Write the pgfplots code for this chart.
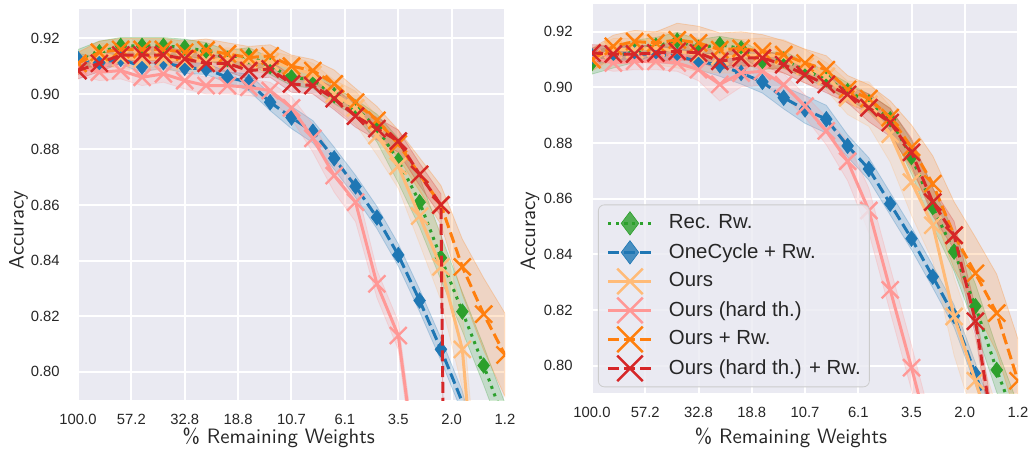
\documentclass[border=0pt]{standalone}
\usepackage{fontspec}
\newfontfamily\arial{Liberation Sans}
\usepackage{pgfplots}
\usepackage{pgfplotstable}
\pgfplotsset{compat=1.18}
\usepgfplotslibrary{fillbetween}
\definecolor{axbg}{HTML}{EAEAF2}
\definecolor{txt}{HTML}{262626}
\definecolor{legedge}{HTML}{CCCCCC}
\definecolor{cgreen}{HTML}{2CA02C}
\definecolor{cblue}{HTML}{1F77B4}
\definecolor{clorange}{HTML}{FFBB78}
\definecolor{cpink}{HTML}{FF9896}
\definecolor{corange}{HTML}{FF7F0E}
\definecolor{cred}{HTML}{D62728}

% columns: remaining weights, then mean and half band width of each run
% g = Rec. Rw., b = OneCycle + Rw., lo = Ours, p = Ours (hard th.),
% o = Ours + Rw., r = Ours (hard th.) + Rw.
\pgfplotstableread{
x      g      ge    b      be    lo     loe   p      pe    o      oe    r      re
100    0.912  0.004 0.9126 0.002 0.911  0.004 0.910  0.003 0.911  0.004 0.9084 0.003
80     0.915  0.004 0.9112 0.002 0.9144 0.004 0.9078 0.003 0.915  0.004 0.911  0.003
64     0.9173 0.003 0.9126 0.002 0.9131 0.004 0.9084 0.003 0.916  0.004 0.914  0.003
51.2   0.9173 0.003 0.9098 0.002 0.9126 0.004 0.906  0.003 0.916  0.004 0.914  0.003
40.96  0.9173 0.003 0.9114 0.002 0.9126 0.004 0.9072 0.003 0.916  0.004 0.914  0.003
32.768 0.9167 0.003 0.9094 0.002 0.912  0.004 0.9048 0.003 0.915  0.004 0.9126 0.003
26.214 0.9155 0.003 0.909  0.002 0.912  0.004 0.903  0.003 0.9158 0.004 0.911  0.003
20.972 0.9126 0.003 0.906  0.002 0.9126 0.004 0.903  0.003 0.9144 0.004 0.911  0.003
16.777 0.9137 0.003 0.9042 0.003 0.912  0.004 0.9024 0.003 0.9131 0.004 0.9084 0.003
13.422 0.910  0.003 0.897  0.003 0.9115 0.004 0.9012 0.003 0.9137 0.004 0.909  0.003
10.737 0.906  0.003 0.8915 0.004 0.9096 0.004 0.895  0.004 0.910  0.004 0.9036 0.003
8.590  0.905  0.003 0.8864 0.004 0.907  0.004 0.884  0.005 0.9084 0.004 0.903  0.003
6.872  0.8995 0.003 0.8768 0.004 0.900  0.005 0.8706 0.006 0.9036 0.005 0.8983 0.004
5.498  0.895  0.003 0.8667 0.004 0.895  0.006 0.861  0.007 0.897  0.005 0.892  0.004
4.398  0.8877 0.005 0.8555 0.004 0.885  0.007 0.8316 0.005 0.8905 0.005 0.8875 0.004
3.518  0.876  0.008 0.842  0.004 0.874  0.008 0.813  0.005 0.882  0.005 0.883  0.004
2.815  0.861  0.009 0.8256 0.004 0.856  0.010 0.755  0.005 0.871  0.006 0.871  0.004
2.252  0.841  0.008 0.808  0.004 0.8377 0.012 0.70   0.005 0.860  0.007 0.860  0.004
1.801  0.8216 0.007 0.789  0.004 0.808  0.014 0.65   0.005 0.8377 0.010 0.10   0.004
1.441  0.8022 0.007 0.76   0.004 0.72   0.015 0.60   0.005 0.8207 0.013 0.10   0.004
1.153  0.7816 0.007 0.72   0.004 0.68   0.015 0.55   0.005 0.806  0.015 0.10   0.004
}\lefttab

\pgfplotstableread{
x      g      ge    b      be    lo     loe   p      pe    o      oe    r      re
100    0.9088 0.004 0.9112 0.003 0.910  0.004 0.9106 0.003 0.910  0.004 0.9124 0.003
80     0.911  0.004 0.9124 0.003 0.9136 0.004 0.9088 0.003 0.9148 0.004 0.912  0.003
64     0.913  0.004 0.912  0.003 0.9136 0.004 0.9094 0.003 0.9165 0.004 0.912  0.003
51.2   0.915  0.003 0.912  0.003 0.9142 0.006 0.9094 0.003 0.916  0.004 0.9124 0.003
40.96  0.9168 0.003 0.9112 0.003 0.913  0.006 0.9088 0.003 0.9171 0.006 0.913  0.003
32.768 0.9142 0.003 0.9094 0.003 0.9118 0.006 0.9064 0.004 0.916  0.006 0.9124 0.003
26.214 0.9154 0.003 0.908  0.004 0.9112 0.006 0.9011 0.006 0.9136 0.006 0.9094 0.003
20.972 0.914  0.003 0.9052 0.004 0.9112 0.006 0.9052 0.005 0.914  0.006 0.9106 0.003
16.777 0.9094 0.003 0.902  0.004 0.9118 0.006 0.9058 0.005 0.913  0.006 0.9106 0.003
13.422 0.910  0.003 0.8963 0.004 0.9112 0.006 0.901  0.004 0.9118 0.005 0.9082 0.003
10.737 0.9064 0.003 0.8921 0.005 0.9076 0.006 0.8933 0.004 0.9088 0.005 0.9046 0.003
8.590  0.9029 0.003 0.8886 0.005 0.904  0.005 0.8844 0.005 0.9064 0.005 0.9011 0.003
6.872  0.8987 0.003 0.879  0.004 0.8963 0.006 0.8735 0.007 0.8993 0.005 0.8975 0.003
5.498  0.8946 0.003 0.8707 0.004 0.894  0.008 0.8558 0.008 0.896  0.005 0.8927 0.005
4.398  0.8886 0.004 0.8582 0.004 0.8832 0.010 0.8273 0.008 0.8892 0.006 0.8874 0.005
3.518  0.875  0.006 0.8457 0.004 0.866  0.012 0.7993 0.008 0.8785 0.008 0.8767 0.005
2.815  0.857  0.007 0.832  0.004 0.8505 0.013 0.77   0.008 0.8654 0.010 0.8588 0.005
2.252  0.841  0.007 0.8179 0.004 0.8177 0.014 0.74   0.008 0.8469 0.012 0.8469 0.005
1.801  0.8214 0.008 0.797  0.004 0.7946 0.015 0.71   0.008 0.8332 0.013 0.816  0.005
1.441  0.7985 0.008 0.775  0.004 0.77   0.015 0.68   0.008 0.8189 0.014 0.769  0.005
1.153  0.778  0.008 0.75   0.004 0.75   0.015 0.65   0.008 0.7946 0.015 0.74   0.005
}\righttab

\tikzset{
  sline/.style={line width=1.5pt},
  gline/.style={sline, cgreen, dash pattern=on 1.5pt off 2.5pt, mark=diamond*, mark size=3.9pt,
    mark options={solid, line width=0.3pt, draw=cgreen, fill=cgreen}},
  bline/.style={sline, cblue, dash pattern=on 5.5pt off 2.4pt, mark=diamond*, mark size=3.9pt,
    mark options={solid, line width=0.3pt, draw=cblue, fill=cblue}},
  loline/.style={sline, clorange, mark=x, mark size=6pt, mark options={solid, line width=1.2pt}},
  pline/.style={sline, cpink, mark=x, mark size=6pt, mark options={solid, line width=1.2pt}},
  oline/.style={sline, corange, dash pattern=on 5.5pt off 2.4pt, mark=x, mark size=6pt,
    mark options={solid, line width=1.2pt}},
  rline/.style={sline, cred, dash pattern=on 5.5pt off 2.4pt, mark=x, mark size=6pt,
    mark options={solid, line width=1.2pt}},
}

\newcommand{\band}[4]{%
  \addplot[name path=u#2, draw=none, forget plot] table[x=x, y expr=\thisrow{#2}+\thisrow{#3}] {#1};
  \addplot[name path=l#2, draw=none, forget plot] table[x=x, y expr=\thisrow{#2}-\thisrow{#3}] {#1};
  \addplot[fill=#4, fill opacity=0.2, draw=#4, draw opacity=0.25, line width=0.4pt, forget plot]
    fill between[of=u#2 and l#2];
}
\newcommand{\allseries}[1]{%
  \band{#1}{g}{ge}{cgreen}
  \band{#1}{b}{be}{cblue}
  \band{#1}{lo}{loe}{clorange}
  \band{#1}{p}{pe}{cpink}
  \band{#1}{o}{oe}{corange}
  \band{#1}{r}{re}{cred}
  \addplot[gline] table[x=x, y=g] {#1};
  \addplot[bline] table[x=x, y=b] {#1};
  \addplot[loline] table[x=x, y=lo] {#1};
  \addplot[pline] table[x=x, y=p] {#1};
  \addplot[oline] table[x=x, y=o] {#1};
  \addplot[rline] table[x=x, y=r] {#1};
}

\begin{document}
\begin{tikzpicture}
\begin{axis}[at={(39pt,24.25pt)}, anchor=south west,
  scale only axis, width=213.5pt, height=195.5pt, clip marker paths=true,
  xmode=log, x dir=reverse, xmin=1.1529, xmax=100, ymin=0.7896, ymax=0.9304,
  axis background/.style={fill=axbg},
  axis line style={draw=none}, major tick style={draw=none},
  grid=major, major grid style={white, line width=1pt},
  xtick={100,57.24,32.77,18.76,10.74,6.144,3.518,2.014,1.153},
  xticklabels={100.0,57.2,32.8,18.8,10.7,6.1,3.5,2.0,1.2},
  ytick={0.80,0.82,0.84,0.86,0.88,0.90,0.92},
  yticklabels={0.80,0.82,0.84,0.86,0.88,0.90,0.92},
  tick label style={font=\arial\fontsize{7.4}{9}\selectfont, text=txt},
  xticklabel style={inner sep=0pt, yshift=-6.5pt},
  yticklabel style={inner sep=0pt, xshift=-9pt},
  xlabel={\% Remaining Weights}, ylabel={Accuracy},
  label style={font=\sffamily\fontsize{10.4}{12}\selectfont, text=txt},
  xlabel style={at={(axis description cs:0.470,-0.110)}, anchor=base},
  ylabel style={at={(axis description cs:-0.1393,0.436)}, anchor=center}]
  \allseries{\lefttab}
\end{axis}

\begin{axis}[at={(296pt,27.85pt)}, anchor=south west,
  scale only axis, width=213pt, height=194.65pt, clip marker paths=true,
  xmode=log, x dir=reverse, xmin=1.1529, xmax=100, ymin=0.7901, ymax=0.9300,
  axis background/.style={fill=axbg},
  axis line style={draw=none}, major tick style={draw=none},
  grid=major, major grid style={white, line width=1pt},
  xtick={100,57.24,32.77,18.76,10.74,6.144,3.518,2.014,1.153},
  xticklabels={100.0,57.2,32.8,18.8,10.7,6.1,3.5,2.0,1.2},
  ytick={0.80,0.82,0.84,0.86,0.88,0.90,0.92},
  yticklabels={0.80,0.82,0.84,0.86,0.88,0.90,0.92},
  tick label style={font=\arial\fontsize{7.4}{9}\selectfont, text=txt},
  xticklabel style={inner sep=0pt, yshift=-6.5pt},
  yticklabel style={inner sep=0pt, xshift=-9.5pt},
  xlabel={\% Remaining Weights}, ylabel={Accuracy},
  label style={font=\sffamily\fontsize{10.4}{12}\selectfont, text=txt},
  xlabel style={at={(axis description cs:0.467,-0.129)}, anchor=base},
  ylabel style={at={(axis description cs:-0.1455,0.417)}, anchor=center},
  legend entries={Rec. Rw., OneCycle + Rw., Ours, Ours (hard th.), Ours + Rw., Ours (hard th.) + Rw.},
  legend cell align=left,
  legend image code/.code={\draw[mark repeat=2, mark phase=2, #1]
    plot coordinates {(0pt,0pt) (10.75pt,0pt) (21.5pt,0pt)};},
  legend image post style={every mark/.append style={scale=1.5}},
  legend style={at={(rel axis cs:0.014,0.0155)}, anchor=south west,
    fill=axbg, fill opacity=0.8, text opacity=1, draw=legedge, rounded corners=3pt,
    font=\arial\fontsize{10.2}{12}\selectfont, text=txt,
    inner xsep=4.3pt, inner ysep=2pt, row sep=0pt, column sep=8pt,
    nodes={inner sep=0pt, minimum height=14.5pt}}]
  \allseries{\righttab}
\end{axis}
\pgfresetboundingbox
\path[use as bounding box] (0,0) rectangle (514.5pt,224.5pt);
\end{tikzpicture}
\end{document}
